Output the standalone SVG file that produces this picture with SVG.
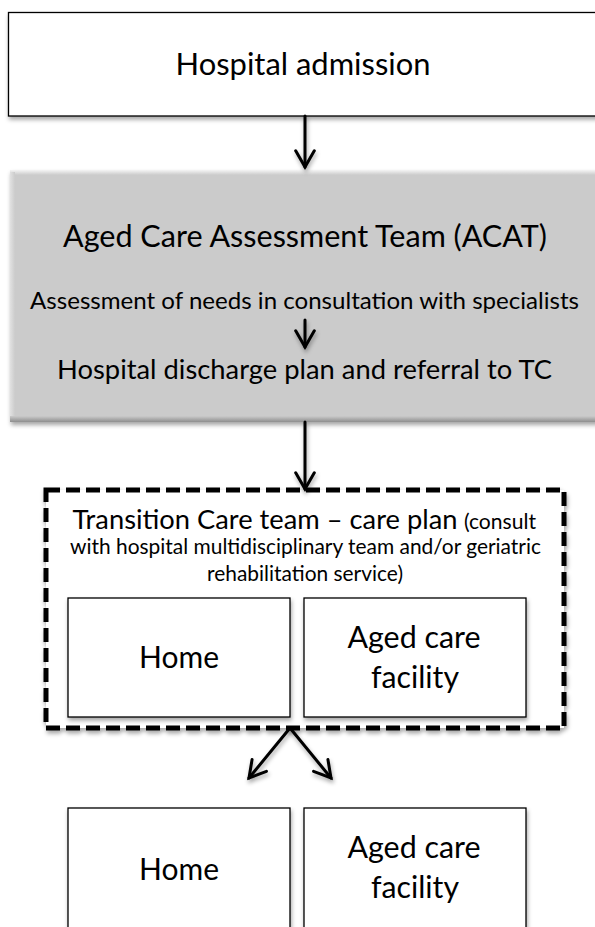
<svg xmlns="http://www.w3.org/2000/svg" width="595" height="927" viewBox="0 0 595 927">
  <style>
    text { font-family: Lato, "Open Sans", "Liberation Sans", sans-serif; fill: #000; text-anchor: middle; }
    .t33 { font-size: 30.5px; }
    .t29 { font-size: 27.5px; }
    .t26 { font-size: 24px; }
    .t22 { font-size: 20.5px; }
    .box { fill: #fff; stroke: #000; stroke-width: 1.3; }
    .conn { stroke: #000; stroke-width: 3; fill: none; stroke-linecap: round; }
  </style>
  <defs>
    <filter id="shadow" x="-10%" y="-10%" width="120%" height="130%">
      <feDropShadow dx="1" dy="3" stdDeviation="2" flood-color="#000" flood-opacity="0.35"/>
    </filter>
    <linearGradient id="bevelTop" x1="0" y1="0" x2="0" y2="1">
      <stop offset="0" stop-color="#f4f4f4"/>
      <stop offset="1" stop-color="#cbcbcb"/>
    </linearGradient>
    <linearGradient id="bevelBottom" x1="0" y1="0" x2="0" y2="1">
      <stop offset="0" stop-color="#cbcbcb"/>
      <stop offset="1" stop-color="#8e8e8e"/>
    </linearGradient>
    <linearGradient id="bevelLeft" x1="0" y1="0" x2="1" y2="0">
      <stop offset="0" stop-color="#e2e2e2"/>
      <stop offset="1" stop-color="#cbcbcb"/>
    </linearGradient>
    <marker id="head" markerWidth="8" markerHeight="8" refX="6" refY="4" orient="auto" markerUnits="strokeWidth">
      <path d="M0.6,0.9 L6,4 L0.6,7.1" fill="none" stroke="#000" stroke-width="1" stroke-linecap="round" stroke-linejoin="miter"/>
    </marker>
  </defs>

  <!-- Hospital admission -->
  <g id="admission">
    <rect class="box" x="8.5" y="12.5" width="600" height="103.5" filter="url(#shadow)"/>
    <text class="t33" x="303" y="75" textLength="255" lengthAdjust="spacingAndGlyphs">Hospital admission</text>
  </g>

  <!-- ACAT assessment (bevelled grey panel) -->
  <g id="acat">
    <rect x="10" y="170" width="600" height="252" fill="#cbcbcb" filter="url(#shadow)"/>
    <rect x="10" y="170" width="600" height="5" fill="url(#bevelTop)"/>
    <rect x="10" y="172" width="5" height="246" fill="url(#bevelLeft)"/>
    <rect x="10" y="416" width="600" height="6" fill="url(#bevelBottom)"/>
    <text class="t33" x="305" y="247" textLength="484" lengthAdjust="spacingAndGlyphs">Aged Care Assessment Team (ACAT)</text>
    <text class="t26" x="304.5" y="309" textLength="549" lengthAdjust="spacingAndGlyphs">Assessment of needs in consultation with specialists</text>
    <text class="t29" x="304.5" y="379" textLength="495" lengthAdjust="spacingAndGlyphs">Hospital discharge plan and referral to TC</text>
  </g>

  <!-- Transition Care team (dashed container) -->
  <g id="transition-care">
    <rect x="46" y="490" width="518" height="238" fill="#fff" stroke="#000" stroke-width="5" stroke-dasharray="14 6" filter="url(#shadow)"/>
    <text class="t29" x="72.5" y="529" style="text-anchor:start" textLength="385" lengthAdjust="spacingAndGlyphs">Transition Care team – care plan</text>
    <text class="t22" x="536" y="529" style="text-anchor:end" textLength="72" lengthAdjust="spacingAndGlyphs">(consult</text>
    <text class="t22" x="305.5" y="554" textLength="471" lengthAdjust="spacingAndGlyphs">with hospital multidisciplinary team and/or geriatric</text>
    <text class="t22" x="305" y="581" textLength="196" lengthAdjust="spacingAndGlyphs">rehabilitation service)</text>
  </g>

  <g id="tc-home">
    <rect class="box" x="68" y="598" width="222" height="119" filter="url(#shadow)"/>
    <text class="t33" x="179" y="668" textLength="80" lengthAdjust="spacingAndGlyphs">Home</text>
  </g>
  <g id="tc-facility">
    <rect class="box" x="304" y="598" width="222" height="119" filter="url(#shadow)"/>
    <text class="t33" x="414" y="648" textLength="133" lengthAdjust="spacingAndGlyphs">Aged care</text>
    <text class="t33" x="415" y="688" textLength="88" lengthAdjust="spacingAndGlyphs">facility</text>
  </g>

  <!-- Discharge destinations -->
  <g id="dest-home">
    <rect class="box" x="68" y="808" width="222" height="130" filter="url(#shadow)"/>
    <text class="t33" x="179" y="880" textLength="80" lengthAdjust="spacingAndGlyphs">Home</text>
  </g>
  <g id="dest-facility">
    <rect class="box" x="304" y="808" width="222" height="130" filter="url(#shadow)"/>
    <text class="t33" x="414" y="858" textLength="133" lengthAdjust="spacingAndGlyphs">Aged care</text>
    <text class="t33" x="415" y="898" textLength="88" lengthAdjust="spacingAndGlyphs">facility</text>
  </g>

  <!-- Connectors -->
  <g id="connectors" filter="url(#shadow)">
    <line class="conn" x1="305" y1="116" x2="305" y2="167" marker-end="url(#head)"/>
    <line class="conn" x1="305" y1="320" x2="305" y2="347" stroke-width="2.5" marker-end="url(#head)"/>
    <line class="conn" x1="305" y1="422" x2="305" y2="489" marker-end="url(#head)"/>
    <line class="conn" x1="290" y1="728" x2="249" y2="778" marker-end="url(#head)"/>
    <line class="conn" x1="290" y1="728" x2="331" y2="778" marker-end="url(#head)"/>
  </g>
</svg>
